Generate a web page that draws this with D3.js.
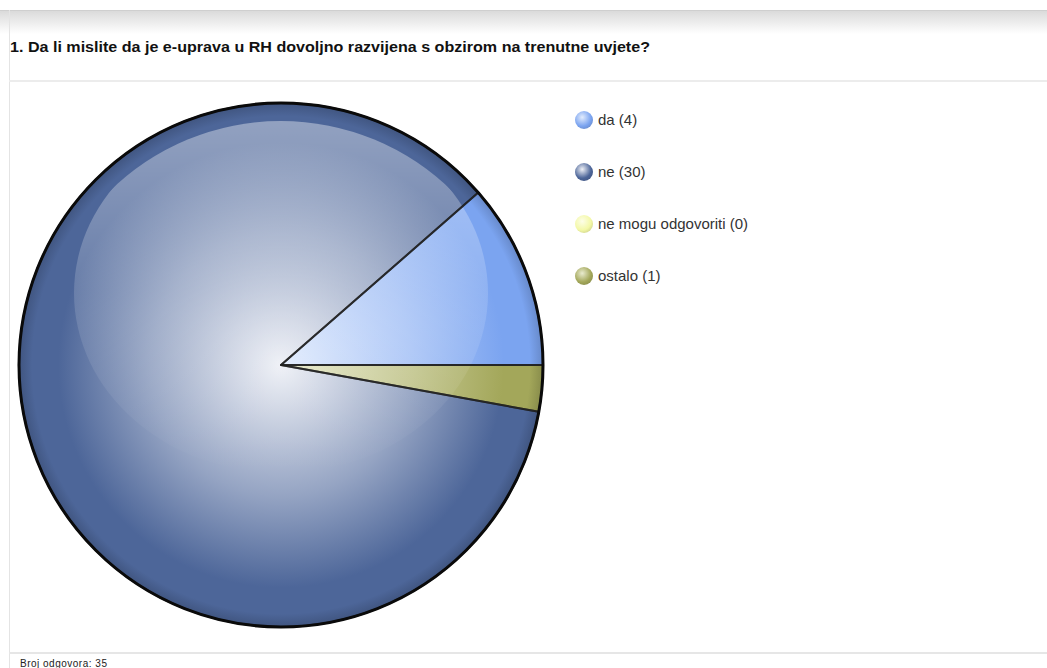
<!DOCTYPE html>
<html>
<head>
<meta charset="utf-8">
<script src="https://cdn.jsdelivr.net/npm/d3@7"></script>
<style>
  body { margin: 0; background: #fff; }
  svg { display: block; }
</style>
</head>
<body>
<svg width="1047" height="668"></svg>
<script>
// survey data
const title = "1. Da li mislite da je e-uprava u RH dovoljno razvijena s obzirom na trenutne uvjete?"
const categories = ["da", "ne", "ne mogu odgovoriti", "ostalo"]
const values = [4, 30, 0, 1]
const baseColors = ["#7ba4f0", "#4d6699", "#f3f8a6", "#a3a75a"]
const lightColors = ["#e2ecfd", "#eef0f6", "#fdfee8", "#e9ebcf"]
const totalLabel = "Broj odgovora: 35"

const svg = d3.select("svg")
const width = 1047, height = 668
const defs = svg.append("defs")

// frame: header band, separators, left border
const hg = defs.append("linearGradient").attr("id", "hdr").attr("x1", 0).attr("y1", 0).attr("x2", 0).attr("y2", 1)
hg.append("stop").attr("offset", 0).attr("stop-color", "#d9d9d9")
hg.append("stop").attr("offset", 1).attr("stop-color", "#ffffff")
svg.append("rect").attr("x", 0).attr("y", 10).attr("width", width).attr("height", 24).attr("fill", "url(#hdr)")
svg.append("line").attr("x1", 0).attr("x2", width).attr("y1", 10.5).attr("y2", 10.5).attr("stroke", "#cfcfcf")
svg.append("line").attr("x1", 9.5).attr("x2", 9.5).attr("y1", 10).attr("y2", height).attr("stroke", "#e4e4e4")
svg.append("line").attr("x1", 9).attr("x2", width).attr("y1", 81).attr("y2", 81).attr("stroke", "#ececec").attr("stroke-width", 2)
svg.append("line").attr("x1", 9).attr("x2", width).attr("y1", 653).attr("y2", 653).attr("stroke", "#e6e6e6").attr("stroke-width", 2)

svg.append("text")
    .attr("x", 10).attr("y", 52)
    .attr("font-family", "'Liberation Sans', Arial, sans-serif")
    .attr("font-weight", "bold").attr("font-size", 15).attr("fill", "#111")
    .attr("textLength", 640).attr("lengthAdjust", "spacingAndGlyphs")
    .text(title)

svg.append("text")
    .attr("x", 20).attr("y", 667)
    .attr("font-family", "'Liberation Sans', Arial, sans-serif")
    .attr("font-size", 10).attr("letter-spacing", 0.5).attr("fill", "#222")
    .text(totalLabel)

// pie
const cx = 281, cy = 365, r = 262
const pie = d3.pie().sort(null).value(d => d).startAngle(Math.PI / 2).endAngle(Math.PI / 2 - 2 * Math.PI)
const arc = d3.arc().innerRadius(0).outerRadius(r)
const arcs = pie(values)

categories.forEach((c, i) => {
  const g = defs.append("radialGradient").attr("id", "sl" + i)
      .attr("gradientUnits", "userSpaceOnUse")
      .attr("cx", 0).attr("cy", 0).attr("r", r)
  g.append("stop").attr("offset", 0).attr("stop-color", lightColors[i])
  g.append("stop").attr("offset", 0.5).attr("stop-color", d3.interpolateRgb(lightColors[i], baseColors[i])(0.55))
  g.append("stop").attr("offset", 0.85).attr("stop-color", baseColors[i])
  g.append("stop").attr("offset", 0.95).attr("stop-color", baseColors[i])
  g.append("stop").attr("offset", 1).attr("stop-color", d3.color(baseColors[i]).darker(0.5))
})

const pg = svg.append("g").attr("transform", `translate(${cx},${cy})`)

defs.append("clipPath").attr("id", "pieclip").append("circle").attr("r", r - 18)

pg.selectAll("path.slice")
  .data(arcs.filter(d => d.value > 0))
  .join("path")
    .attr("class", "slice")
    .attr("d", arc)
    .attr("fill", d => "url(#sl" + d.index + ")")

// gloss highlight
const gl = defs.append("linearGradient").attr("id", "gloss").attr("x1", 0).attr("y1", 0).attr("x2", 0).attr("y2", 1)
gl.append("stop").attr("offset", 0).attr("stop-color", "#fff").attr("stop-opacity", 0.4)
gl.append("stop").attr("offset", 0.5).attr("stop-color", "#fff").attr("stop-opacity", 0.15)
gl.append("stop").attr("offset", 1).attr("stop-color", "#fff").attr("stop-opacity", 0)
pg.append("ellipse")
    .attr("cx", 0).attr("cy", -r + 190).attr("rx", r - 55).attr("ry", 180)
    .attr("clip-path", "url(#pieclip)")
    .attr("fill", "url(#gloss)")

// slice borders
pg.selectAll("path.edge")
  .data(arcs.filter(d => d.value > 0))
  .join("path")
    .attr("class", "edge")
    .attr("d", arc)
    .attr("fill", "none")
    .attr("stroke", "#1e1e1e").attr("stroke-opacity", 0.75)
    .attr("stroke-width", 2).attr("stroke-linejoin", "round")

pg.append("circle").attr("r", r).attr("fill", "none").attr("stroke", "#0a0a0a").attr("stroke-width", 3)

// legend
const lg = svg.append("g").attr("transform", "translate(584,120)")
categories.forEach((c, i) => {
  const g = defs.append("radialGradient").attr("id", "lm" + i)
      .attr("cx", 0.4).attr("cy", 0.35).attr("r", 0.7)
  g.append("stop").attr("offset", 0).attr("stop-color", lightColors[i])
  g.append("stop").attr("offset", 0.7).attr("stop-color", baseColors[i])
  g.append("stop").attr("offset", 1).attr("stop-color", d3.color(baseColors[i]).darker(0.4))
  const row = lg.append("g").attr("transform", `translate(0,${i * 52})`)
  row.append("circle").attr("r", 9).attr("fill", "url(#lm" + i + ")")
  row.append("text").attr("x", 14).attr("y", 5)
      .attr("font-family", "'Liberation Sans', Arial, sans-serif")
      .attr("font-size", 15).attr("fill", "#333")
      .text(`${c} (${values[i]})`)
})
</script>
</body>
</html>
